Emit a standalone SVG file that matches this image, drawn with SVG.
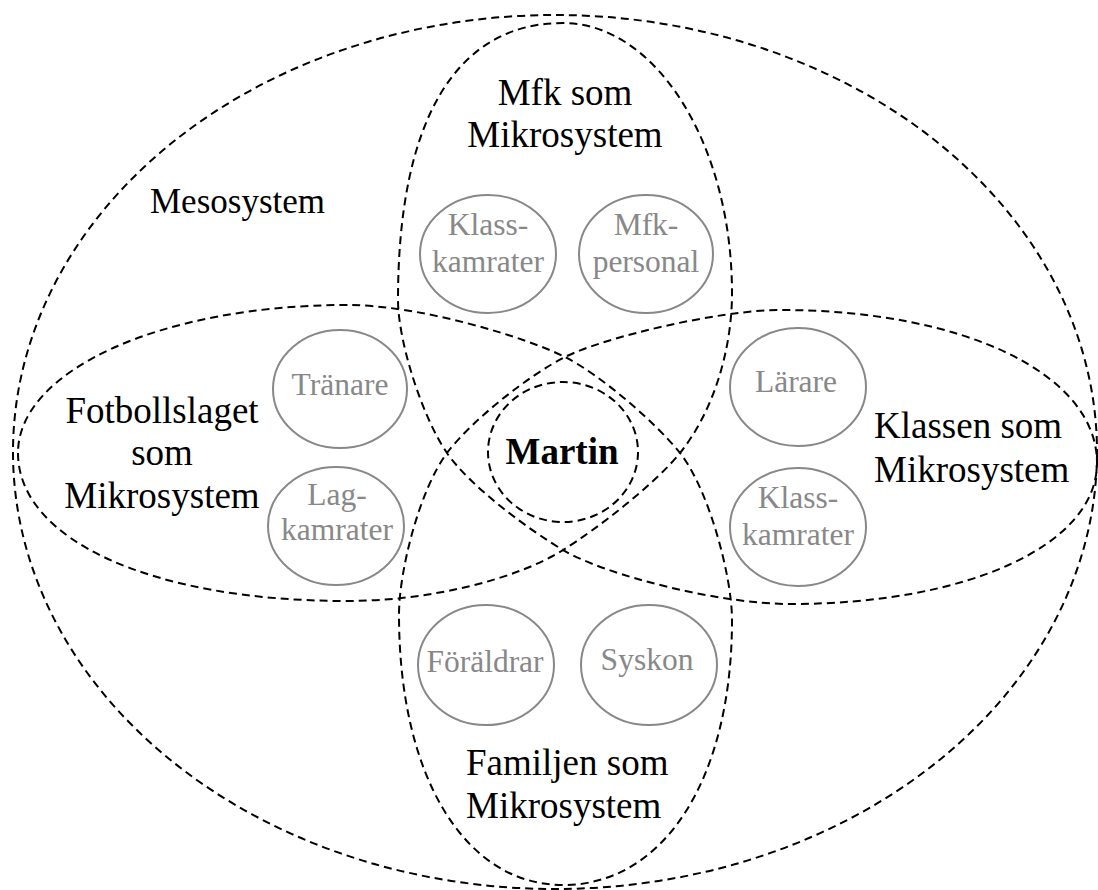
<svg xmlns="http://www.w3.org/2000/svg" width="1098" height="890" viewBox="0 0 1098 890">
  <style>
    .bound { fill: none; stroke: #000; stroke-width: 2; stroke-dasharray: 8 5; }
    .person { fill: none; stroke: #888; stroke-width: 2; }
    .lbl { font-family: "Liberation Serif", "Times New Roman", serif; font-size: 37px; fill: #000; }
    .meso { font-size: 35px; }
    .plbl { font-family: "Liberation Serif", "Times New Roman", serif; font-size: 31.5px; fill: #888; text-anchor: middle; }
    .mid { text-anchor: middle; }
  </style>
  <rect width="1098" height="890" fill="#fff"/>

  <!-- system boundaries -->
  <g id="boundaries">
    <ellipse id="mesosystem-boundary" class="bound" cx="555" cy="452" rx="542" ry="437"/>
    <!-- one looping curve forming the four microsystem lobes -->
    <path id="microsystem-lobes" class="bound" d="M 18,453
      C 18,539 150,601 347,601
      C 430,601 517,579 563,550
      C 597,529 655,484 680,453
      C 711.5,414 732,353 732,293
      C 732,144.5 656,23 563,23
      C 456,23 398,120 398,300
      C 398,340 421.5,416 447,453
      C 469.6,486 528.6,529.6 563,550
      C 606,575.5 720,604 790,604
      C 968,604 1097,545 1097,463
      C 1097,374 964,310 780,310
      C 720,310 605,337 565,357
      C 529,375 471,421 447,453
      C 420,489 399,570 399,615
      C 399,777 465,885 563,885
      C 664,885 732,779 732,620
      C 732,575 708,488 680,453
      C 655,422 600.6,375 565,357
      C 525,337 420,305 347,305
      C 163,305 18,370 18,453 Z"/>
  </g>

  <g id="mesosystem">
    <text class="lbl meso" x="150" y="213">Mesosystem</text>
  </g>

  <g id="mfk">
    <text class="lbl mid" x="565" y="105">Mfk som</text>
    <text class="lbl mid" x="565" y="147">Mikrosystem</text>
  </g>
  <g id="fotbollslaget">
    <text class="lbl mid" x="162" y="423">Fotbollslaget</text>
    <text class="lbl mid" x="162" y="465">som</text>
    <text class="lbl mid" x="162" y="508">Mikrosystem</text>
  </g>
  <g id="klassen">
    <text class="lbl" x="874" y="438">Klassen som</text>
    <text class="lbl" x="874" y="482">Mikrosystem</text>
  </g>
  <g id="familjen">
    <text class="lbl" x="466" y="775">Familjen som</text>
    <text class="lbl" x="466" y="818">Mikrosystem</text>
  </g>

  <g id="martin">
    <ellipse class="bound" cx="563" cy="452" rx="75" ry="70"/>
    <text class="lbl mid" x="562" y="464" font-size="31.5" font-weight="bold">Martin</text>
  </g>

  <g id="mfk-klasskamrater">
    <ellipse class="person" cx="488" cy="254" rx="68" ry="59"/>
    <text class="plbl" x="488" y="235">Klass-</text>
    <text class="plbl" x="488" y="272">kamrater</text>
  </g>
  <g id="mfk-personal">
    <ellipse class="person" cx="646" cy="254" rx="67" ry="59"/>
    <text class="plbl" x="646" y="235">Mfk-</text>
    <text class="plbl" x="646" y="272">personal</text>
  </g>
  <g id="tranare">
    <ellipse class="person" cx="340" cy="389" rx="67" ry="59"/>
    <text class="plbl" x="340" y="395">Tränare</text>
  </g>
  <g id="lagkamrater">
    <ellipse class="person" cx="336" cy="526" rx="68" ry="59"/>
    <text class="plbl" x="337" y="505">Lag-</text>
    <text class="plbl" x="337" y="540">kamrater</text>
  </g>
  <g id="larare">
    <ellipse class="person" cx="798" cy="387" rx="68" ry="59"/>
    <text class="plbl" x="796" y="392">Lärare</text>
  </g>
  <g id="klassen-klasskamrater">
    <ellipse class="person" cx="798" cy="527" rx="68" ry="59"/>
    <text class="plbl" x="798" y="508">Klass-</text>
    <text class="plbl" x="798" y="545">kamrater</text>
  </g>
  <g id="foraldrar">
    <ellipse class="person" cx="486" cy="665" rx="68" ry="60"/>
    <text class="plbl" x="485" y="672">Föräldrar</text>
  </g>
  <g id="syskon">
    <ellipse class="person" cx="649" cy="665" rx="68" ry="60"/>
    <text class="plbl" x="647" y="670">Syskon</text>
  </g>
</svg>
